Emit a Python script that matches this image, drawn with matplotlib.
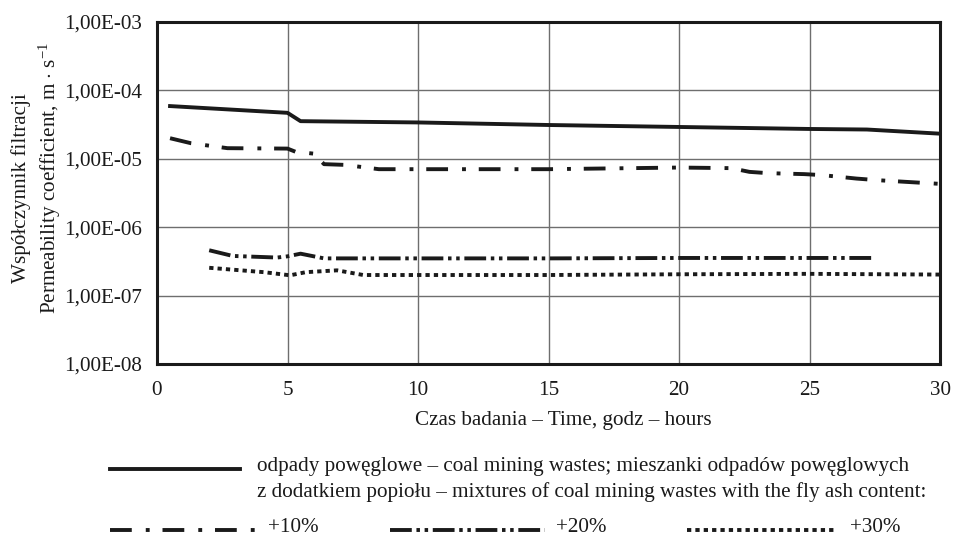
import matplotlib
matplotlib.use("Agg")
import matplotlib.pyplot as plt
from matplotlib.lines import Line2D
from matplotlib.ticker import FixedLocator, FuncFormatter, NullLocator

plt.rcParams['font.family'] = ['Liberation Serif', 'DejaVu Serif']
plt.rcParams['mathtext.fontset'] = 'custom'
plt.rcParams['mathtext.rm'] = 'Liberation Serif'
plt.rcParams['mathtext.it'] = 'Liberation Serif:italic'

# odpady poweglowe (coal mining wastes)
t_waste = [0.5, 5.0, 5.5, 10, 15, 20, 25, 27.2, 30]
k_waste = [5.9e-5, 4.7e-5, 3.55e-5, 3.4e-5, 3.12e-5, 2.92e-5, 2.73e-5, 2.68e-5, 2.33e-5]

# +10% popiolu
t_10 = [0.5, 1.3, 2.7, 5.0, 5.3, 6.0, 6.4, 7.2, 8.5, 15, 20, 22, 22.7, 23.4, 24.8, 25.5, 26.8, 27.6, 30]
k_10 = [2.0e-5, 1.69e-5, 1.43e-5, 1.41e-5, 1.27e-5, 1.19e-5, 8.35e-6, 8.15e-6, 7.05e-6,
        7.05e-6, 7.45e-6, 7.3e-6, 6.44e-6, 6.17e-6, 5.97e-6, 5.77e-6, 5.14e-6, 4.87e-6, 4.3e-6]

# +20% popiolu
t_20 = [2.0, 2.9, 4.6, 5.0, 5.5, 6.4, 10, 15, 20, 25, 27.5]
k_20 = [4.6e-7, 3.8e-7, 3.6e-7, 3.75e-7, 4.1e-7, 3.5e-7, 3.5e-7, 3.5e-7, 3.55e-7, 3.55e-7, 3.55e-7]

# +30% popiolu
t_30 = [2.0, 4.1, 5.1, 5.7, 6.9, 7.3, 7.9, 15, 20, 25, 30]
k_30 = [2.55e-7, 2.2e-7, 1.98e-7, 2.2e-7, 2.34e-7, 2.2e-7, 2.0e-7, 2.0e-7, 2.05e-7, 2.08e-7, 2.03e-7]

x_ticks = [0, 5, 10, 15, 20, 25, 30]
y_ticks = [1e-8, 1e-7, 1e-6, 1e-5, 1e-4, 1e-3]

# style linii
LW = 2.8
STYLE_10 = (0, (5.6, 3.6, 1.0, 3.3))
STYLE_20 = (0, (5.6, 1.2, 0.9, 1.2, 0.9, 1.2))
STYLE_30 = (0, (1.1, 1.05))
FS = 15.2


def fmt_e(v, pos):
    s = "%.2E" % v
    mant, ex = s.split("E")
    return mant.replace(".", ",") + "E" + ex[0] + ex[1:].zfill(2)


fig = plt.figure(figsize=(9.56, 5.37), dpi=100)
ax = fig.add_axes([157 / 956, 1 - 364 / 537, (940 - 157) / 956, (364 - 22) / 537])

ax.plot(t_waste, k_waste, color='#1a1a1a', lw=LW, solid_joinstyle='round')
ax.plot(t_10, k_10, color='#1a1a1a', lw=LW, linestyle=STYLE_10)
ax.plot(t_20, k_20, color='#1a1a1a', lw=LW, linestyle=STYLE_20)
ax.plot(t_30, k_30, color='#1a1a1a', lw=LW, linestyle=STYLE_30)

ax.set_yscale('log')
ax.set_xlim(0, 30)
ax.set_ylim(1e-8, 1e-3)
ax.xaxis.set_major_locator(FixedLocator(x_ticks))
ax.yaxis.set_major_locator(FixedLocator(y_ticks))
ax.yaxis.set_minor_locator(NullLocator())
ax.yaxis.set_major_formatter(FuncFormatter(fmt_e))
ax.tick_params(length=0, labelsize=FS, colors='#1a1a1a')
ax.tick_params(axis='y', pad=11)
ax.tick_params(axis='x', pad=12)
ax.grid(True, color='#6e6e6e', lw=1.0)
for sp in ax.spines.values():
    sp.set_linewidth(2.2)
    sp.set_color('#1a1a1a')

# opisy osi
fig.text(563 / 956, 1 - 421 / 537, "Czas badania – Time, godz – hours", ha='center', va='center',
         fontsize=FS, color='#1a1a1a')
fig.text(21 / 956, 1 - 188 / 537, "Współczynnik filtracji", rotation=90, ha='center', va='center',
         fontsize=FS, color='#1a1a1a')
fig.text(50 / 956, 1 - 178 / 537, r"Permeability coefficient, m $\cdot$ s$^{-1}$", rotation=90,
         ha='center', va='center', fontsize=FS, color='#1a1a1a')

# legenda
def leg_line(x0, x1, y, style):
    fig.add_artist(Line2D([x0 / 956, x1 / 956], [1 - y / 537, 1 - y / 537], transform=fig.transFigure,
                          color='#1a1a1a', lw=LW, linestyle=style))


leg_line(110, 240, 469, '-')
fig.text(257 / 956, 1 - 466 / 537, "odpady powęglowe – coal mining wastes; mieszanki odpadów powęglowych",
         ha='left', va='center', fontsize=FS, color='#1a1a1a')
fig.text(257 / 956, 1 - 492 / 537, "z dodatkiem popiołu – mixtures of coal mining wastes with the fly ash content:",
         ha='left', va='center', fontsize=FS, color='#1a1a1a')

leg_line(110, 255, 530, STYLE_10)
fig.text(268 / 956, 1 - 528 / 537, "+10%", ha='left', va='center', fontsize=FS, color='#1a1a1a')
leg_line(390, 545, 530, STYLE_20)
fig.text(556 / 956, 1 - 528 / 537, "+20%", ha='left', va='center', fontsize=FS, color='#1a1a1a')
leg_line(687, 837, 530, STYLE_30)
fig.text(850 / 956, 1 - 528 / 537, "+30%", ha='left', va='center', fontsize=FS, color='#1a1a1a')

fig.savefig("out.png", dpi=100)
